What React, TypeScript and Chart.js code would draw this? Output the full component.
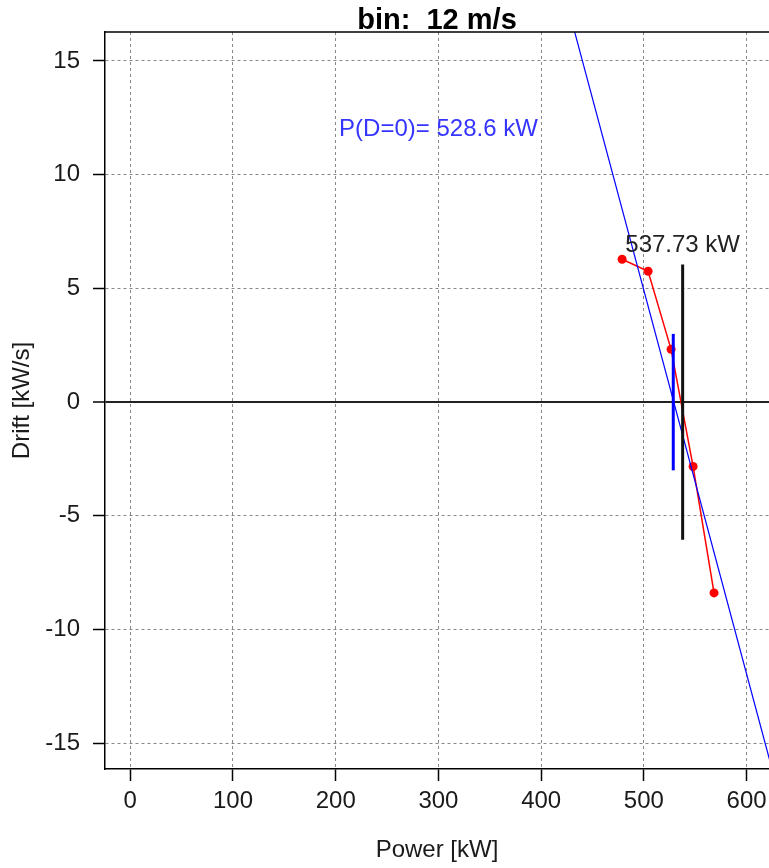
import React, { useEffect, useRef } from "react";
import { Chart, registerables } from "chart.js";

Chart.register(...registerables);

// ---- data ----
const chartTitle = "bin:  12 m/s";
const xAxisTitle = "Power [kW]";
const yAxisTitle = "Drift [kW/s]";
const xTicks = [0, 100, 200, 300, 400, 500, 600];
const yTicks = [-15, -10, -5, 0, 5, 10, 15];
const xRange = [-24.6, 621.8];
const yRange = [-16.13, 16.27];

const powerKW = [478.8, 504.1, 526.5, 547.9, 568.3];
const driftKWs = [6.28, 5.75, 2.32, -2.83, -8.39];

const fitPowerKW = [420, 640];
const fitDrift = [18.4, -18.7];

const zeroDriftPower = 528.6;
const zeroDriftSpan = [-3.0, 3.0];
const zeroDriftLabel = "P(D=0)= 528.6 kW";
const zeroDriftLabelPos = [300, 12];

const binPower = 537.73;
const binSpan = [-6.05, 6.05];
const binLabel = "537.73 kW";
const binLabelY = 6.9;

const FONT = "'Liberation Sans', Arial, sans-serif";

const overlayPlugin = {
  id: "overlay",
  afterDatasetsDraw(chart: any) {
    const { ctx, chartArea } = chart;
    const xs = chart.scales.x;
    const ys = chart.scales.y;
    ctx.save();
    // top border of box
    ctx.strokeStyle = "#000";
    ctx.lineWidth = 1.5;
    ctx.beginPath();
    ctx.moveTo(chartArea.left, chartArea.top);
    ctx.lineTo(chartArea.right, chartArea.top);
    ctx.stroke();
    // title
    ctx.fillStyle = "#000";
    ctx.font = `bold 29px ${FONT}`;
    ctx.textAlign = "center";
    ctx.textBaseline = "alphabetic";
    ctx.fillText(chartTitle, (chartArea.left + chartArea.right) / 2, 29);
    // annotations
    ctx.font = `24px ${FONT}`;
    ctx.textBaseline = "middle";
    ctx.fillStyle = "#3535ff";
    ctx.fillText(
      zeroDriftLabel,
      xs.getPixelForValue(zeroDriftLabelPos[0]),
      ys.getPixelForValue(zeroDriftLabelPos[1])
    );
    ctx.fillStyle = "#222";
    ctx.fillText(binLabel, xs.getPixelForValue(binPower), ys.getPixelForValue(binLabelY));
    ctx.restore();
  },
};

export default function App() {
  const ref = useRef<HTMLCanvasElement | null>(null);
  useEffect(() => {
    if (!ref.current) return;
    const chart = new Chart(ref.current, {
      type: "scatter",
      data: {
        datasets: [
          {
            data: [
              { x: binPower, y: binSpan[0] },
              { x: binPower, y: binSpan[1] },
            ],
            showLine: true,
            borderColor: "#111",
            borderWidth: 3,
            pointRadius: 0,
            order: 1,
          },
          {
            data: [
              { x: zeroDriftPower, y: zeroDriftSpan[0] },
              { x: zeroDriftPower, y: zeroDriftSpan[1] },
            ],
            showLine: true,
            borderColor: "#0000ff",
            borderWidth: 3,
            pointRadius: 0,
            order: 2,
          },
          {
            data: fitPowerKW.map((x, i) => ({ x, y: fitDrift[i] })),
            showLine: true,
            borderColor: "#0000ff",
            borderWidth: 1.2,
            pointRadius: 0,
            order: 3,
          },
          {
            data: powerKW.map((x, i) => ({ x, y: driftKWs[i] })),
            showLine: true,
            borderColor: "#ff0000",
            backgroundColor: "#ff0000",
            borderWidth: 1.5,
            pointRadius: 4.5,
            pointBorderWidth: 0,
            tension: 0,
            order: 4,
          },
        ],
      },
      options: {
        animation: false,
        responsive: false,
        devicePixelRatio: 1,
        layout: { autoPadding: false, padding: { top: 32, right: 0, bottom: 0, left: 0 } },
        plugins: {
          legend: { display: false },
          tooltip: { enabled: false },
          title: { display: false },
        },
        scales: {
          x: {
            type: "linear",
            min: xRange[0],
            max: xRange[1],
            afterBuildTicks: (s: any) => {
              s.ticks = xTicks.map((v) => ({ value: v }));
            },
            afterFit: (s: any) => {
              s.height = 99;
              s.paddingLeft = 0;
              s.paddingRight = 0;
              s.paddingTop = 0;
              s.paddingBottom = 0;
            },
            ticks: {
              font: { family: FONT, size: 24 },
              color: "#1a1a1a",
              padding: 6,
              maxRotation: 0,
              autoSkip: false,
            },
            grid: {
              color: "#888",
              lineWidth: 1,
              tickLength: 12,
              tickColor: "#000",
              tickWidth: 1.5,
            },
            border: { display: true, color: "#000", width: 1.5, dash: [3, 3] },
            title: {
              display: true,
              text: xAxisTitle,
              font: { family: FONT, size: 24 },
              color: "#1a1a1a",
              padding: { top: 0, bottom: 3 },
            },
          },
          y: {
            type: "linear",
            min: yRange[0],
            max: yRange[1],
            afterBuildTicks: (s: any) => {
              s.ticks = yTicks.map((v) => ({ value: v }));
            },
            afterFit: (s: any) => {
              s.width = 105;
              s.paddingLeft = 0;
              s.paddingRight = 0;
              s.paddingTop = 0;
              s.paddingBottom = 0;
            },
            ticks: {
              font: { family: FONT, size: 24 },
              color: "#1a1a1a",
              padding: 13,
              autoSkip: false,
            },
            grid: {
              color: (c: any) => (c.tick && c.tick.value === 0 ? "#222" : "#888"),
              lineWidth: (c: any) => (c.tick && c.tick.value === 0 ? 2 : 1),
              tickLength: 12,
              tickColor: "#000",
              tickWidth: 1.5,
            },
            border: {
              display: true,
              color: "#000",
              width: 1.5,
              dash: (c: any) => (c.tick && c.tick.value === 0 ? [] : [3, 3]),
            },
            title: {
              display: true,
              text: yAxisTitle,
              font: { family: FONT, size: 24 },
              color: "#1a1a1a",
              padding: { top: 8, bottom: 0 },
            },
          },
        },
      },
      plugins: [overlayPlugin],
    } as any);
    return () => chart.destroy();
  }, []);
  return (
    <div style={{ position: "fixed", left: 0, top: 0, width: 769, height: 868, background: "#fff" }}>
      <canvas ref={ref} width={769} height={868} />
    </div>
  );
}
